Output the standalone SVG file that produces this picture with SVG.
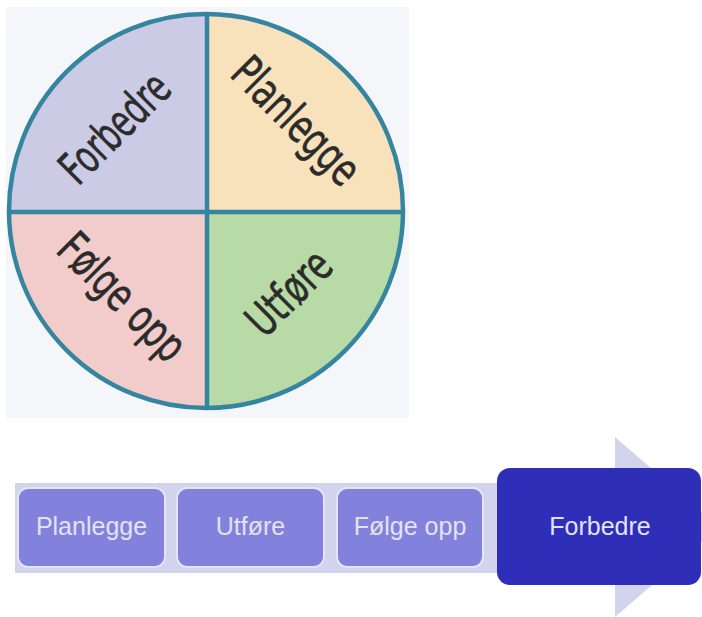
<svg xmlns="http://www.w3.org/2000/svg" width="702" height="617" viewBox="0 0 702 617">
<style>
.q{stroke:none}
.div{stroke:#3585a0;stroke-width:4.5;fill:none}
.ct{font-family:"DejaVu Sans Condensed","Liberation Sans",sans-serif;font-size:46px;fill:#2b2b2b;stroke:#2b2b2b;stroke-width:0.6;text-anchor:middle}
.box{fill:#8282dc;stroke:#e4e4f4;stroke-width:2}
.bt{font-family:"Liberation Sans",Arial,sans-serif;font-size:25px;fill:#e2e2f4;text-anchor:middle}
</style>
<rect x="0" y="0" width="702" height="617" fill="#ffffff"/>
<g id="cycle">
<rect x="6" y="7" width="403" height="411" fill="#f4f6fa"/>
<path class="q" d="M206,211 L9,211 A197,197 0 0 1 206,14 Z" fill="#cbcbe6"/>
<path class="q" d="M206,211 L206,14 A197,197 0 0 1 403,211 Z" fill="#f8e2bc"/>
<path class="q" d="M206,211 L403,211 A197,197 0 0 1 206,408 Z" fill="#b7daa6"/>
<path class="q" d="M206,211 L206,408 A197,197 0 0 1 9,211 Z" fill="#f2cbcb"/>
<circle class="div" cx="206" cy="211" r="197"/>
<line class="div" x1="207" y1="14" x2="207" y2="408"/>
<line class="div" x1="9" y1="212" x2="403" y2="212"/>
</g>
<g id="q-forbedre"><text class="ct" x="126" y="139" transform="rotate(-45 126 139)" textLength="135" lengthAdjust="spacingAndGlyphs">Forbedre</text></g>
<g id="q-planlegge"><text class="ct" x="285" y="132" transform="rotate(45 285 132)" textLength="160" lengthAdjust="spacingAndGlyphs">Planlegge</text></g>
<g id="q-folge"><text class="ct" x="111" y="308" transform="rotate(45 111 308)" textLength="160" lengthAdjust="spacingAndGlyphs">Følge opp</text></g>
<g id="q-utfore"><text class="ct" x="300" y="304" transform="rotate(-45 300 304)" textLength="100" lengthAdjust="spacingAndGlyphs">Utføre</text></g>
<g id="connectors">
<path d="M15,483 L615,483 L615,437 L719,527 L615,617 L615,573 L15,573 Z" fill="#d2d4ee"/>
</g>
<g id="n-planlegge"><rect class="box" x="18" y="488" width="147" height="79" rx="10"/><text class="bt" x="91.5" y="535">Planlegge</text></g>
<g id="n-utfore"><rect class="box" x="177" y="488" width="147" height="79" rx="10"/><text class="bt" x="250.5" y="535">Utføre</text></g>
<g id="n-folge"><rect class="box" x="337" y="488" width="146" height="79" rx="10"/><text class="bt" x="410" y="535">Følge opp</text></g>
<g id="n-forbedre"><rect x="497" y="468" width="204" height="117" rx="13" fill="#2e2eb8"/><text class="bt" x="600" y="535" fill="#dcdcf0">Forbedre</text></g>
</svg>
